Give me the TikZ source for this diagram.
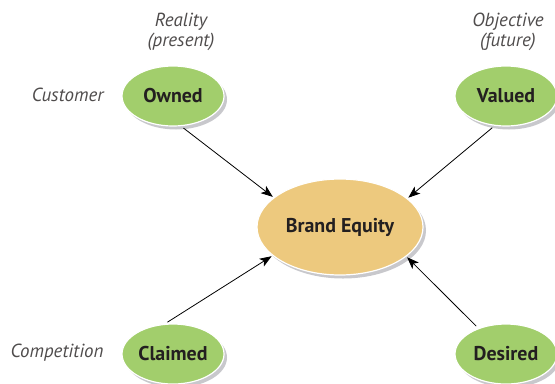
\documentclass[tikz,border=0pt]{standalone}
\usepackage{fontspec}
\setmainfont{PT Sans}
\usetikzlibrary{shadows, shapes.geometric, arrows.meta}
\definecolor{leafgreen}{RGB}{162, 206, 108}
\definecolor{sand}{RGB}{237, 201, 126}
\definecolor{shade}{RGB}{200, 200, 204}
\definecolor{ink}{RGB}{35, 31, 32}

\begin{document}
\begin{tikzpicture}[x=1bp, y=-1bp,
        blob/.style={ellipse, draw=white, line width=1.2bp, text=ink,
            font=\bfseries\fontsize{20}{24}\selectfont,
            drop shadow={shadow xshift=3bp, shadow yshift=-3.5bp, fill=shade, opacity=1}},
        side/.style={blob, fill=leafgreen, minimum width=102bp, minimum height=60bp, inner sep=0pt},
        hub/.style={blob, fill=sand, minimum width=166bp, minimum height=96bp, inner sep=0pt},
        remark/.style={font=\itshape\fontsize{19}{20}\selectfont, text=ink!80, align=center},
        feed/.style={-{Stealth[length=12bp, width=9bp, inset=3bp]}, line width=0.8bp,
            shorten >=1bp, shorten <=3bp}]

    % page frame
    \useasboundingbox (0,0) rectangle (555,383);

    % the centre and the four corners
    \node[hub]  (equity)  at (340, 227) {Brand Equity};
    \node[side] (owned)   at (173, 96)  {Owned};
    \node[side] (valued)  at (506, 96)  {Valued};
    \node[side] (claimed) at (173, 354) {Claimed};
    \node[side] (desired) at (506, 354) {Desired};

    % headings over the columns and labels in front of the rows
    \node[remark] (reality)     at (181, 32)  {Reality\\(present)};
    \node[remark] (objective)   at (508, 32)  {Objective\\(future)};
    \node[remark, anchor=east] (customer)    at (107, 95)  {Customer};
    \node[remark, anchor=east] (competition) at (107, 353) {Competition};

    % every corner feeds the centre (leave / arrive angles on the borders)
    \foreach \corner / \leave / \arrive in {
                owned/-75/156, valued/-111/23, claimed/105/-157, desired/137/-24} {
        \draw[feed] (\corner.\leave) -- (equity.\arrive);
    }
\end{tikzpicture}
\end{document}
